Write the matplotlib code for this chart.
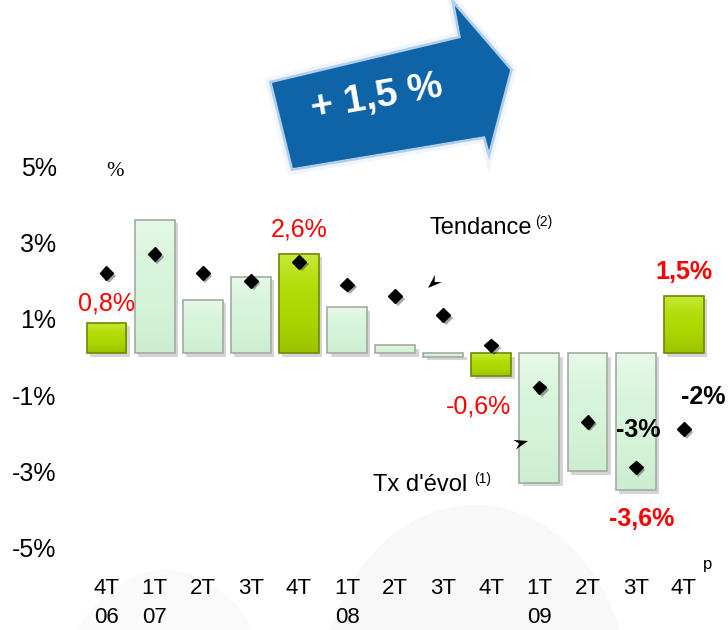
import numpy as np
import matplotlib
matplotlib.use('Agg')
import matplotlib.pyplot as plt
from matplotlib import patheffects as pe
from matplotlib.patches import Polygon, Ellipse
from matplotlib.colors import LinearSegmentedColormap
from matplotlib.transforms import ScaledTranslation

# data
quarters = ['4T\n06', '1T\n07', '2T', '3T', '4T', '1T\n08', '2T', '3T', '4T',
            '1T\n09', '2T', '3T', '4T']
tx_evol = [0.8, 3.5, 1.4, 2.0, 2.6, 1.2, 0.2, -0.1, -0.6, -3.4, -3.1, -3.6, 1.5]
tendance = [2.1, 2.6, 2.1, 1.9, 2.4, 1.8, 1.5, 1.0, 0.2, -0.9, -1.8, -3.0, -2.0]
highlight = [0, 4, 8, 12]
yticks = [5, 3, 1, -1, -3, -5]

# labels: (index, offset in points, bold)
evol_labels = [(0, (0, 14), False), (4, (0, 18), False), (8, (-9, -22), False),
               (11, (4, -21), True), (12, (0, 17), True)]
trend_labels = [(11, (2, 27)), (12, (14, 23))]

plt.rcParams['font.family'] = ['Liberation Sans', 'DejaVu Sans']
W, H = 728, 630
fig = plt.figure(figsize=(W / 100, H / 100), dpi=100)

# background layer in pixel coords
bg = fig.add_axes([0, 0, 1, 1])
bg.set_xlim(0, W); bg.set_ylim(H, 0); bg.axis('off')
bg.add_patch(Ellipse((475, 700), 310, 390, color='#f8f8f8', lw=0))
bg.add_patch(Ellipse((165, 720), 220, 300, color='#fafafa', lw=0))

# blue trend arrow
arrow = Polygon([(272, 83), (461, 38), (455, 6), (510, 70), (489, 150),
                 (485, 136), (293, 168)], closed=True, facecolor='#0f64a8',
                edgecolor='none', zorder=2)
arrow.set_path_effects([pe.Stroke(linewidth=9, foreground='#a9cdeb', alpha=0.18),
                        pe.Stroke(linewidth=4, foreground='#3f89cc', alpha=0.35),
                        pe.Normal()])
bg.add_patch(arrow)
bg.text(377, 98, '+ 1,5 %', color='white', fontsize=28, fontweight='bold',
        rotation=10, ha='center', va='center', zorder=3)

# main chart
ax = fig.add_axes([58 / W, 1 - 560 / H, 670 / W, 410 / H])
ax.patch.set_alpha(0)
x = np.arange(len(quarters))

green = LinearSegmentedColormap.from_list('g', ['#9cc200', '#acd600', '#b4dc08', '#c8ea3a'])
light = LinearSegmentedColormap.from_list('l', ['#cdedd1', '#d4f3d7', '#d8f5db', '#e6f9e8'])
edges = ['#6d8a00' if i in highlight else '#a3aaa3' for i in x]
faces = ['#acd600' if i in highlight else '#d6f4d9' for i in x]

bars = ax.bar(x, tx_evol, width=0.83, color=faces, edgecolor='none', zorder=2)
grad = np.linspace(0, 1, 64).reshape(-1, 1)
for i, b in enumerate(bars):
    b.set_path_effects([pe.SimplePatchShadow(offset=(2.5, -2.5), shadow_rgbFace='#777777',
                                             alpha=0.3), pe.Normal()])
    y0, y1 = sorted([b.get_y(), b.get_y() + b.get_height()])
    im = ax.imshow(grad, extent=(b.get_x(), b.get_x() + b.get_width(), y0, y1),
                   origin='lower', aspect='auto', zorder=2.5,
                   cmap=green if i in highlight else light)
    im.set_clip_path(b)
ax.bar(x, tx_evol, width=0.83, facecolor='none', edgecolor=edges, linewidth=1.2, zorder=3)

ax.plot(x, tendance, 'D', color='black', markersize=7, zorder=4,
        path_effects=[pe.SimplePatchShadow(offset=(2, -2), alpha=0.35), pe.Normal()])

for i, off, bold in evol_labels:
    ax.annotate(f'{tx_evol[i]:.1f}%'.replace('.', ','), (x[i], tx_evol[i]), xytext=off,
                textcoords='offset points', ha='center', va='center', color='#ff0000',
                fontsize=18, fontweight='bold' if bold else 'normal', zorder=5)
for i, off in trend_labels:
    ax.annotate(f'{tendance[i]:.0f}%', (x[i], tendance[i]), xytext=off,
                textcoords='offset points', ha='center', va='center', color='black',
                fontsize=18, fontweight='bold', zorder=5)

ax.set_xlim(-1.008, 12.92)
ax.set_ylim(-5.43, 5.33)
ax.set_yticks(yticks)
ax.set_yticklabels([f'{v}%' for v in yticks], fontsize=18)
ax.set_xticks(x)
ax.set_xticklabels(quarters, fontsize=16, linespacing=1.5)
ax.tick_params(axis='y', length=0, pad=1)
ax.tick_params(axis='x', length=0, pad=13)
for lab in ax.get_yticklabels():
    lab.set_transform(lab.get_transform() + ScaledTranslation(0, -0.04, fig.dpi_scale_trans))
for s in ax.spines.values():
    s.set_visible(False)

# overlay layer (pixel coords) for notes on top of the bars
top = fig.add_axes([0, 0, 1, 1])
top.set_xlim(0, W); top.set_ylim(H, 0); top.axis('off')
top.patch.set_alpha(0)
top.text(708, 565, 'p', fontsize=12, ha='center', va='center')
top.text(115, 171, '%', fontsize=15, family='Liberation Serif', ha='center', va='center')
top.text(430, 228, 'Tendance', fontsize=17, ha='left', va='center')
top.text(535, 222, '(2)', fontsize=10, ha='left', va='center')
top.text(373, 485, "Tx d'évol", fontsize=17, ha='left', va='center')
top.text(474, 479, '(1)', fontsize=10, ha='left', va='center')


def stealth(tip, back, length=14, width=10, notch=5):
    tip = np.array(tip, float)
    d = tip - np.array(back, float)
    d /= np.hypot(*d)
    n = np.array([-d[1], d[0]])
    pts = [tip, tip - length * d + width / 2 * n, tip - (length - notch) * d,
           tip - length * d - width / 2 * n]
    top.add_patch(Polygon(pts, closed=True, facecolor='black', edgecolor='none', zorder=6))


stealth((428, 288), (440, 277))
stealth((528, 441), (510, 446))

fig.savefig('out.png', dpi=100)
